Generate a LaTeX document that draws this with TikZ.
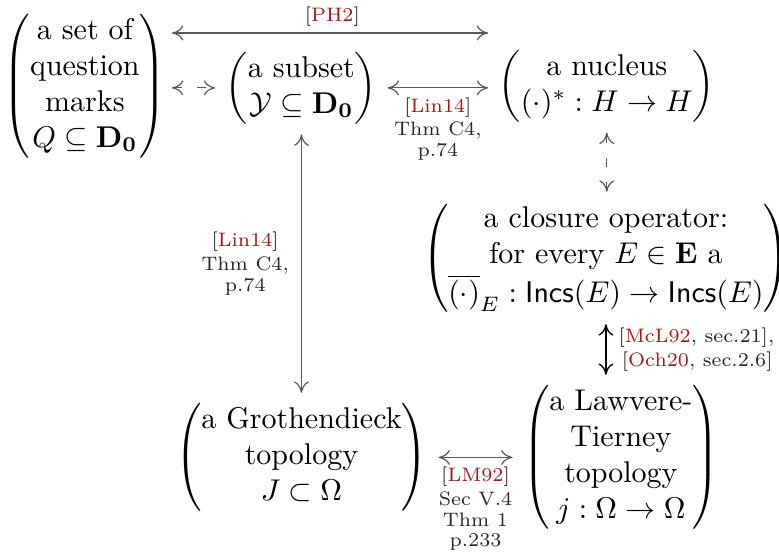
\documentclass[tikz,border=0pt]{standalone}
\usepackage{amsmath, amsfonts, amssymb}
\usepackage{xcolor}
\usepackage{tikz}
\usetikzlibrary{arrows.meta, positioning}

\definecolor{citered}{rgb}{0.62,0.10,0.11}
\newcommand{\parcol}[1]{$\left(\begin{tabular}{@{}c@{}}#1\end{tabular}\right)$}
\newcommand{\refkey}[1]{\textcolor{citered}{#1}}

\tikzset{
    ref/.style={<->, draw=black!65, line width=0.4pt},
    refstrong/.style={<->, draw=black, line width=0.45pt},
    refdash/.style={ref, dash pattern=on 3pt off 5pt},
    lbl/.style={font=\fontsize{6.5}{6.9}\selectfont, align=center, text=black!85, inner sep=1pt}
}

\begin{document}
\begin{tikzpicture}[x=1pt, y=1pt, >={Computer Modern Rightarrow[length=3.8pt, width=5pt]}]
    \useasboundingbox (0,0) rectangle (259.7,184);

    \node (qm) at (28.3,155.3) {\parcol{a set of\\ question\\ marks\\ $Q\subseteq\mathbf{D_0}$}};
    \node (sub) at (100.5,154.7) {\parcol{a subset\\ $\mathcal{Y}\subseteq\mathbf{D_0}$}};
    \node (nuc) at (202.3,155.3) {\parcol{a nucleus\\ $(\cdot)^{*}:H\to H$}};
    \node (clo) at (202,98) {\parcol{a closure operator:\\ for every $E\in\mathbf{E}$ a\\ $\overline{(\cdot)}_E:\mathsf{Incs}(E)\to\mathsf{Incs}(E)$}};
    \node (gro) at (100.5,31.5) {\parcol{a Grothendieck\\ topology\\ $J\subset\Omega$}};
    \node (lt) at (207,31.5) {\parcol{a Lawvere-\\ Tierney\\ topology\\ $j:\Omega\to\Omega$}};

    \draw[ref, shorten <=-1.5pt] ([yshift=17.7pt]qm.east) -- node[lbl, above=1pt] {[\refkey{PH2}]} ([yshift=17.7pt]qm.east -| nuc.west);
    \draw[refdash, shorten <=-1.5pt] (qm.east |- sub) -- (sub.west);
    \draw[ref] (sub.east) -- node[lbl, below=2pt] {[\refkey{Lin14}]\\[1pt] Thm C4,\\ p.74} (sub.east -| nuc.west);
    \draw[ref] (sub.south) -- node[lbl, left=3pt] {[\refkey{Lin14}]\\[1pt] Thm C4,\\ p.74} (sub.south |- gro.north);
    \draw[refdash] (nuc.south) -- (nuc.south |- clo.north);
    \draw[refstrong] (clo.south) -- node[lbl, right=3pt, align=left] {[\refkey{McL92}, sec.21],\\[1pt] \,[\refkey{Och20}, sec.2.6]} (clo.south |- lt.north);
    \draw[ref] (gro.east) -- node[lbl, below=2pt] {[\refkey{LM92}]\\[1pt] Sec V.4\\ Thm 1\\ p.233} (lt.west);
\end{tikzpicture}
\end{document}
